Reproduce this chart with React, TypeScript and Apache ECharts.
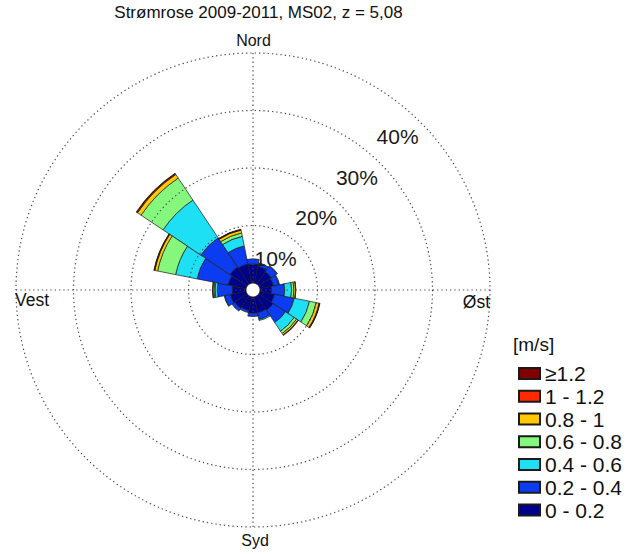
import React, { useEffect, useRef } from "react";
import * as echarts from "echarts";

// 16 direction sectors, clockwise from north
const directions = ["N", "NNE", "NE", "ENE", "E", "ESE", "SE", "SSE", "S", "SSW", "SW", "WSW", "W", "WNW", "NW", "NNW"];

// speed classes (m/s), bottom of the stack first
const speedClasses = ["0 - 0.2", "0.2 - 0.4", "0.4 - 0.6", "0.6 - 0.8", "0.8 - 1", "1 - 1.2", "≥1.2"];
const classColors = ["#00008c", "#0c3cf2", "#1ee0f5", "#84f77c", "#ffc800", "#ff2a00", "#800000"];

// frequency (%) per direction for each speed class
const speed0_02 = [3.3, 3.0, 2.6, 2.4, 2.0, 2.6, 3.0, 2.8, 2.8, 2.4, 2.6, 2.8, 2.4, 3.2, 3.6, 3.4];
const speed02_04 = [0.9, 0.6, 1.2, 1.0, 2.3, 3.5, 2.6, 1.2, 0.6, 0.4, 0.6, 1.0, 2.6, 5.5, 6.1, 3.2];
const speed04_06 = [0, 0, 0.1, 0.1, 1.2, 2.7, 1.8, 0.2, 0, 0, 0, 0.1, 0.4, 3.8, 7.9, 1.7];
const speed06_08 = [0, 0, 0, 0, 0.4, 1.2, 0.5, 0, 0, 0, 0, 0, 0.2, 3.2, 4.6, 0.6];
const speed08_10 = [0, 0, 0, 0, 0.3, 0.5, 0.3, 0, 0, 0, 0, 0, 0.2, 0.5, 0.75, 0.5];
const speed10_12 = [0, 0, 0, 0, 0.05, 0.1, 0.1, 0, 0, 0, 0, 0, 0.05, 0.1, 0.15, 0.1];
const speed12_up = [0, 0, 0, 0, 0, 0.05, 0, 0, 0, 0, 0, 0, 0, 0.05, 0.1, 0.05];

const ringTicks = [10, 20, 30, 40];
const ringLabels = ["10%", "20%", "30%", "40%"];

const titleText = "Strømrose 2009-2011, MS02, z = 5,08";
const unitText = "[m/s]";

const CX = 253;
const CY = 290;
const R_IN = 7;
const R_OUT = 237;
const R_MAX = 40;
const FONT = "'Liberation Sans', Arial, Helvetica, sans-serif";

const classValues = [speed0_02, speed02_04, speed04_06, speed06_08, speed08_10, speed10_12, speed12_up];

function ringPx(v: number) {
  return R_IN + ((R_OUT - R_IN) * v) / R_MAX;
}

const dotted = { color: "#4a4a4a", width: 1.2, type: [1.3, 3] as any };
const hidden = { axisLine: { show: false }, axisTick: { show: false }, axisLabel: { show: false } };

export default function App() {
  const ref = useRef<HTMLDivElement>(null);
  useEffect(() => {
    const chart = echarts.init(ref.current!, null, { renderer: "svg" });
    const s = Math.SQRT1_2;
    const ringTextEls = ringTicks.map((t, i) => ({
      type: "text",
      z: 100,
      x: CX + ringPx(t) * s - 2,
      y: CY - ringPx(t) * s + 14,
      style: {
        text: ringLabels[i],
        fontSize: 21,
        fontFamily: FONT,
        fill: "#1a1a1a",
        textAlign: "right",
        textVerticalAlign: "middle",
      },
    }));
    const txt = (text: string, x: number, y: number, size: number, align: string) => ({
      type: "text",
      z: 100,
      x,
      y,
      style: { text, fontSize: size, fontFamily: FONT, fill: "#111", textAlign: align, textVerticalAlign: "middle" },
    });
    const firstRing = ringTicks[0];
    chart.setOption({
      animation: false,
      backgroundColor: "#fff",
      polar: [
        { center: [CX, CY], radius: [R_IN, R_OUT] },
        { center: [CX, CY], radius: [ringPx(firstRing), R_OUT] },
        { center: [CX, CY], radius: [R_IN, R_OUT] },
      ],
      angleAxis: [
        {
          polarIndex: 0,
          type: "category",
          data: directions,
          startAngle: 90 + 180 / directions.length,
          clockwise: true,
          show: false,
        },
        {
          polarIndex: 1,
          type: "value",
          min: 0,
          max: 360,
          show: false,
        },
        {
          polarIndex: 2,
          type: "value",
          min: 0,
          max: 360,
          interval: 90,
          startAngle: 90,
          clockwise: true,
          z: 5,
          ...hidden,
          splitLine: { show: true, lineStyle: dotted },
        },
      ],
      radiusAxis: [
        { polarIndex: 0, type: "value", min: 0, max: R_MAX, show: false },
        {
          polarIndex: 1,
          type: "value",
          min: firstRing,
          max: R_MAX,
          interval: 10,
          z: 5,
          ...hidden,
          splitLine: { show: true, lineStyle: dotted },
        },
        {
          polarIndex: 2,
          type: "value",
          min: 0,
          max: R_MAX,
          ...hidden,
          splitLine: { show: false },
        },
      ],
      legend: {
        data: [...speedClasses].reverse(),
        orient: "vertical",
        left: 513,
        top: 358,
        itemWidth: 21,
        itemHeight: 11,
        itemGap: 1.75,
        icon: "rect",
        selectedMode: false,
        textStyle: { fontSize: 21, lineHeight: 20, fontFamily: FONT, color: "#111" },
      },
      series: classValues.map((vals, i) => ({
        type: "bar",
        name: speedClasses[i],
        coordinateSystem: "polar",
        polarIndex: 0,
        stack: "rose",
        barCategoryGap: "0%",
        data: vals.map((v) => (v === 0 ? null : v)),
        itemStyle: { color: classColors[i], borderColor: "#1a1a1a", borderWidth: 0.7 },
        z: 2,
      })),
      graphic: [
        txt(titleText, 258.5, 12, 17, "center"),
        txt("Nord", 253.5, 40.5, 16, "center"),
        txt("Syd", 255, 540.5, 16, "center"),
        txt("Vest", 15, 300, 17.5, "left"),
        txt("Øst", 490, 302, 17.5, "right"),
        txt(unitText, 513, 344, 19, "left"),
        ...ringTextEls,
      ],
    });
    return () => chart.dispose();
  }, []);
  return (
    <div
      ref={ref}
      style={{ position: "fixed", left: 0, top: 0, width: 630, height: 554, background: "#fff" }}
    />
  );
}
